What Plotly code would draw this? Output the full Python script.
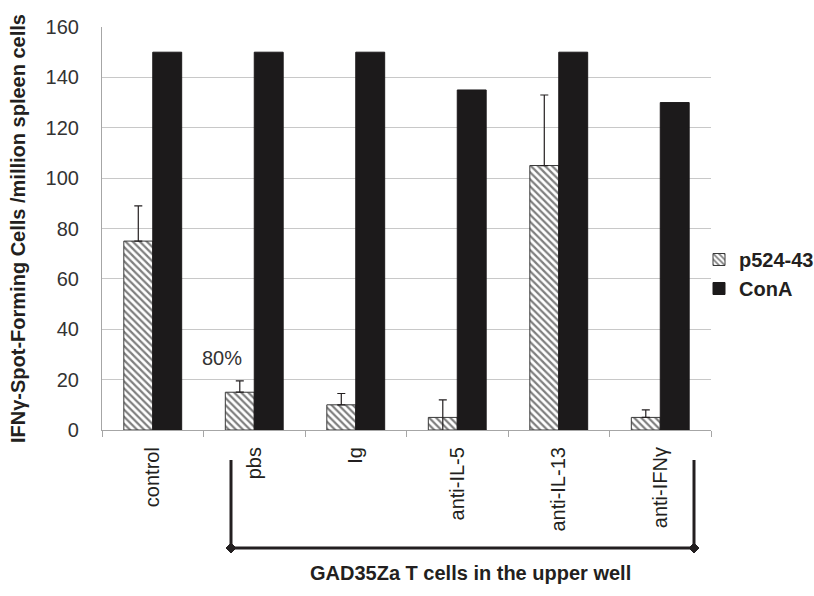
import plotly.graph_objects as go

categories = ["control", "pbs", "Ig", "anti-IL-5", "anti-IL-13", "anti-IFNγ"]
p524_values = [75, 15, 10, 5, 105, 5]
p524_err_plus = [14, 4.5, 4.5, 7, 28, 3]
p524_err_minus = [0, 0, 0, 7, 0, 0]
cona_values = [150, 150, 150, 135, 150, 130]
y_ticks = [0, 20, 40, 60, 80, 100, 120, 140, 160]

FONT = "Liberation Sans, Arial, sans-serif"
TXT = "#231f20"

W, H = 814, 596
# desired plot area in page pixels
PL, PR, PT, PB = 102, 711, 27, 430
L = PL
R = W - PR
T = PT
B = H - PB
pw, ph = PR - PL, PB - PT

def px(xp):
    return (xp - PL) / pw

def py(yp):
    return (PB - yp) / ph

fig = go.Figure()
fig.add_trace(go.Bar(
    name="p524-43", x=categories, y=p524_values,
    marker=dict(color="white", line=dict(color="#3a3a3a", width=1),
                pattern=dict(shape="\\", fgcolor="#000000", bgcolor="white", size=5, solidity=0.45)),
    error_y=dict(type="data", array=p524_err_plus, arrayminus=p524_err_minus, symmetric=False,
                 color="#231f20", thickness=1.2, width=4),
    legendgroup="a",
))
fig.add_trace(go.Bar(
    name="ConA", x=categories, y=cona_values,
    marker=dict(color="#1c1a1b", line=dict(color="#1c1a1b", width=1)),
    legendgroup="b",
))

x_left, x_right = px(231), px(694)
y_top, y_bot = py(460), py(548)
line = dict(color="#231f20", width=3)
shapes = [
    dict(type="line", xref="paper", yref="paper", x0=x_left, x1=x_left, y0=y_top, y1=y_bot, line=line),
    dict(type="line", xref="paper", yref="paper", x0=x_right, x1=x_right, y0=y_top, y1=y_bot, line=line),
    dict(type="line", xref="paper", yref="paper", x0=x_left, x1=x_right, y0=y_bot, y1=y_bot, line=line),
]
for xa in (x_left, x_right):
    shapes.append(dict(type="path", xref="paper", yref="paper", xsizemode="pixel", ysizemode="pixel",
                       xanchor=xa, yanchor=y_bot, path="M-5,0 L0,5 L5,0 L0,-5 Z",
                       fillcolor="#231f20", line=dict(color="#231f20", width=1)))

fig.update_layout(
    width=W, height=H,
    margin=dict(l=L, r=R, t=T, b=B, autoexpand=False),
    paper_bgcolor="white", plot_bgcolor="white",
    barmode="group", bargap=0.43, bargroupgap=0,
    font=dict(family=FONT, size=20, color=TXT),
    showlegend=True,
    legend=dict(x=px(699), y=py(274), xanchor="left", yanchor="middle",
                font=dict(family=FONT, size=20, color=TXT, weight="bold"),
                tracegroupgap=0, itemwidth=30, bgcolor="rgba(0,0,0,0)"),
    shapes=shapes,
    annotations=[
        dict(text="80%", x="pbs", y=28.5, xref="x", yref="y", xshift=-32, showarrow=False,
             font=dict(family=FONT, size=20, color="#333333")),
        dict(text="<b>GAD35Za T cells in the upper well</b>", xref="paper", yref="paper",
             x=px(470), y=py(586), showarrow=False, font=dict(family=FONT, size=20, color=TXT)),
    ],
)
fig.update_xaxes(
    type="category", showline=True, linecolor="#a6a6a6", linewidth=1.2,
    ticks="outside", tickson="boundaries", ticklen=6, tickcolor="#a6a6a6",
    tickangle=-90, tickfont=dict(family=FONT, size=20, color=TXT),
    ticklabelstandoff=8, showgrid=False,
)
fig.update_yaxes(
    range=[0, 160], tickvals=y_ticks, showline=True, linecolor="#a6a6a6", linewidth=1.2,
    showgrid=True, gridcolor="#c8c8c8", gridwidth=1, zeroline=False,
    ticks="", tickfont=dict(family=FONT, size=20, color="#333333"), ticklabelstandoff=18,
    title=dict(text="<b>IFNγ-Spot-Forming Cells /million spleen cells</b>", standoff=14,
               font=dict(family=FONT, size=20, color=TXT)),
)
fig.write_html("out.html", config={"displayModeBar": False},
               post_script="document.body.style.margin='0';document.body.style.overflow='hidden';")
